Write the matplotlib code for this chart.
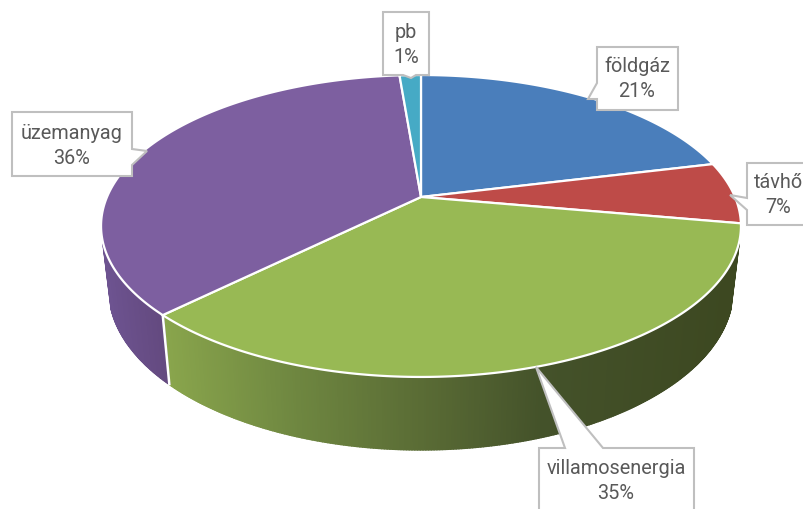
"""Perspective pie chart of energy shares, drawn in pixel coordinates."""

import matplotlib

matplotlib.use("Agg")
import matplotlib.colors as mcolors
import matplotlib.pyplot as plt
import numpy as np
from matplotlib.collections import PolyCollection
from matplotlib.patches import Polygon

# Data
labels = ["földgáz", "távhő", "villamosenergia", "üzemanyag", "pb"]
shares = [21.2, 6.6, 34.8, 36.1, 1.3]
slice_colors = ["#4a7ebb", "#be4b48", "#98b954", "#7d5fa0", "#46aac5"]

# Projection of the disc: top face and bottom rim
CX, CY = 421, 197
PERSP = 0.192
TOP_A, TOP_B = 314, 145.4
BOT_A, BOT_B, BOT_Y = 306, 154, 259

# Wall shading, by pixel x
wall_stops = {
    "földgáz": ([0, 804], ["#3c4720", "#3c4720"]),
    "távhő": ([0, 804], ["#3c4720", "#3c4720"]),
    "villamosenergia": ([170, 300, 420, 540, 740], ["#89a54c", "#6e8640", "#5a6c35", "#44522a", "#3c4720"]),
    "üzemanyag": ([105, 165], ["#6e5492", "#644a80"]),
}

# Callouts: box (x0, y0, x1, y1) and pointer (side, base start, base end, tip)
boxes = {
    "földgáz": (597, 47, 678, 110),
    "távhő": (747, 163, 810, 225),
    "villamosenergia": (539, 448, 694, 514),
    "üzemanyag": (12, 112, 132, 176),
    "pb": (383, 12, 429, 75),
}
pointers = {
    "földgáz": ("left", 83, 99, (588, 99)),
    "távhő": ("left", 198, 210, (730, 195)),
    "villamosenergia": ("top", 565, 603, (536, 367)),
    "üzemanyag": ("right", 149, 165, (147, 151)),
    "pb": ("bottom", 403, 416, (411, 78)),
}
text_centers = {
    "földgáz": (637, 79),
    "távhő": (778, 195),
    "villamosenergia": (616, 481),
    "üzemanyag": (72, 146),
    "pb": (406, 45),
}


def top_rim(theta):
    s, c = np.sin(theta), np.cos(theta)
    w = 1 + PERSP * c
    return CX + TOP_A * s / w, CY - TOP_B * c / w


def bottom_rim(theta):
    s, c = np.sin(theta), np.cos(theta)
    w = 1 + PERSP * c
    return CX + BOT_A * s / w, BOT_Y - BOT_B * c / w


def callout_outline(box, pointer):
    x0, y0, x1, y1 = box
    side, p0, p1, tip = pointer
    if side == "left":
        return [(x0, y0), (x1, y0), (x1, y1), (x0, y1), (x0, p1), tip, (x0, p0)]
    if side == "right":
        return [(x0, y0), (x1, y0), (x1, p0), tip, (x1, p1), (x1, y1), (x0, y1)]
    if side == "top":
        return [(x0, y0), (p0, y0), tip, (p1, y0), (x1, y0), (x1, y1), (x0, y1)]
    return [(x0, y0), (x1, y0), (x1, y1), (p1, y1), tip, (p0, y1), (x0, y1)]


fig = plt.figure(figsize=(8.04, 5.09), dpi=100)
ax = fig.add_axes([0, 0, 1, 1])
ax.set_xlim(0, 804)
ax.set_ylim(509, 0)
ax.axis("off")

edges = 2 * np.pi * np.cumsum([0] + shares) / sum(shares)

# Side walls, one narrow strip per step so the shading follows x
for name, start, end in zip(labels, edges[:-1], edges[1:]):
    xs, hexes = wall_stops.get(name, (None, None))
    if xs is None:
        continue
    rgb = np.array([mcolors.to_rgb(h) for h in hexes])
    thetas = np.linspace(start, end, 300)
    # the back of the rim is hidden behind the top face
    thetas = thetas[np.cos(thetas) < -0.3]
    tx, ty = top_rim(thetas)
    bx, by = bottom_rim(thetas)
    quads, colors = [], []
    for i in range(len(thetas) - 1):
        quads.append([(tx[i], ty[i]), (tx[i + 1], ty[i + 1]), (bx[i + 1], by[i + 1]), (bx[i], by[i])])
        mid = (bx[i] + bx[i + 1]) / 2
        colors.append([np.interp(mid, xs, rgb[:, k]) for k in range(3)])
    ax.add_collection(PolyCollection(quads, facecolors=colors, edgecolors=colors, linewidths=1.5, zorder=1))

# White seam where the green and purple walls meet
for theta in edges[1:-1]:
    if np.cos(theta) < 0 and np.sin(theta) < 0:
        tx, ty = top_rim(theta)
        bx, by = bottom_rim(theta)
        ax.plot([tx, bx], [ty, by], color="white", linewidth=1.8, zorder=2)

# Top face
for color, start, end in zip(slice_colors, edges[:-1], edges[1:]):
    thetas = np.linspace(start, end, 200)
    tx, ty = top_rim(thetas)
    points = [(CX, CY)] + list(zip(tx, ty))
    ax.add_patch(Polygon(points, closed=True, facecolor=color, edgecolor="white", linewidth=1.6, zorder=3))

# Callouts
for name, share in zip(labels, shares):
    outline = callout_outline(boxes[name], pointers[name])
    ax.add_patch(Polygon(outline, closed=True, facecolor="white", edgecolor="#bfbfbf", linewidth=1.5, zorder=4))
    x, y = text_centers[name]
    ax.text(
        x,
        y,
        f"{name}\n{round(share)}%",
        ha="center",
        va="center",
        multialignment="center",
        family="Roboto",
        fontsize=14.3,
        linespacing=1.4,
        color="#595959",
        zorder=5,
    )

fig.savefig("out.png", dpi=100)
